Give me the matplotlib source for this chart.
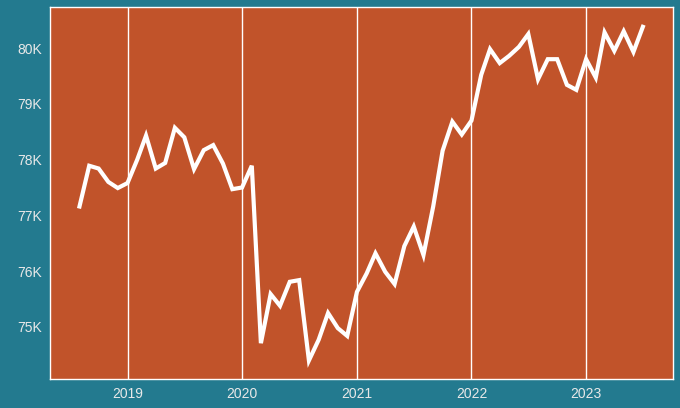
import matplotlib
matplotlib.use("Agg")
import matplotlib.pyplot as plt
import matplotlib.dates as mdates
import matplotlib.ticker as mticker
import pandas as pd

# monthly values, Aug 2018 - Jul 2023 (in thousands)
months = pd.date_range("2018-08-01", "2023-07-01", freq="MS")
values = [
    77.16, 77.89, 77.84, 77.60, 77.49,
    77.58, 78.00, 78.43, 77.84, 77.94, 78.57, 78.40, 77.83, 78.17, 78.26, 77.93, 77.47,
    77.50, 77.89, 74.71, 75.59, 75.38, 75.81, 75.84, 74.40, 74.77, 75.25, 74.98, 74.84,
    75.63, 75.96, 76.32, 75.99, 75.77, 76.45, 76.80, 76.29, 77.16, 78.16, 78.68, 78.45,
    78.70, 79.52, 79.98, 79.73, 79.86, 80.02, 80.25, 79.44, 79.80, 79.80, 79.34, 79.25,
    79.80, 79.47, 80.28, 79.95, 80.30, 79.93, 80.38,
]
values = [v * 1000 for v in values]

bg = "#237a8f"
panel = "#c1532a"

plt.rcParams["font.family"] = ["Liberation Sans", "DejaVu Sans"]

fig = plt.figure(figsize=(6.8, 4.08), dpi=100, facecolor=bg)
ax = fig.add_axes([0.0735, 0.0711, 0.9162, 0.9117])
ax.set_facecolor(panel)

ax.plot(months, values, color="white", linewidth=3, solid_joinstyle="miter")

ax.set_xlim(pd.Timestamp("2018-04-29"), pd.Timestamp("2023-10-05"))
ax.set_ylim(74068, 80735)

ax.xaxis.set_major_locator(mdates.YearLocator())
ax.xaxis.set_major_formatter(mdates.DateFormatter("%Y"))
ax.yaxis.set_major_locator(mticker.MultipleLocator(1000))
ax.yaxis.set_major_formatter(mticker.FuncFormatter(lambda v, p: f"{v/1000:.0f}K"))

ax.grid(True, axis="x", color="white", linewidth=1)
ax.grid(False, axis="y")
ax.tick_params(length=0, colors="#e8e8e8", labelsize=10, pad=6)
for s in ax.spines.values():
    s.set_color("white")
    s.set_linewidth(1)

fig.savefig("out.png", dpi=100, facecolor=bg)
